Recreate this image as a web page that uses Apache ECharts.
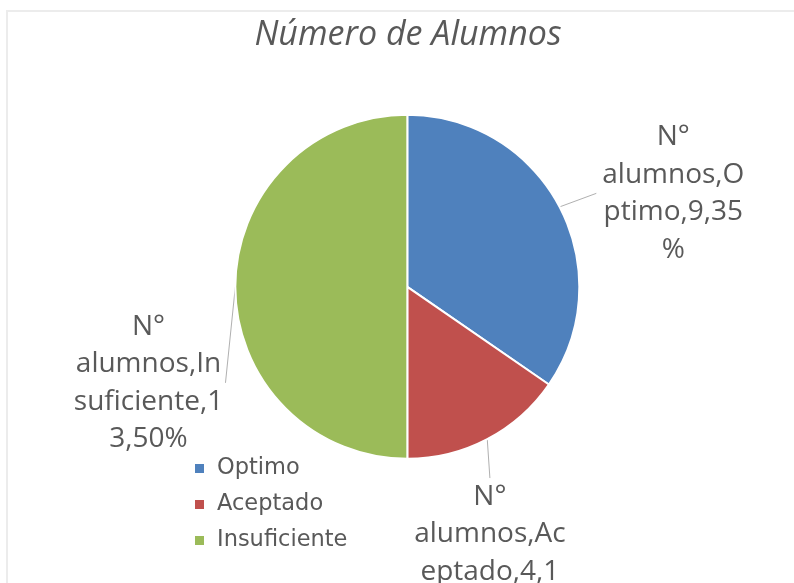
<!DOCTYPE html>
<html>
<head>
<meta charset="utf-8">
<script src="https://cdn.jsdelivr.net/npm/echarts@6/dist/echarts.min.js"></script>
<style>
  html, body { margin: 0; padding: 0; background: #fff; }
  #chart { width: 794px; height: 583px; }
</style>
</head>
<body>
<div id="chart"></div>
<script>
  const categories = ['Optimo', 'Aceptado', 'Insuficiente']
  const values = [9, 4, 13]
  const colors = ['#4f81bd', '#c0504d', '#9bbb59']
  const seriesName = 'N° alumnos'

  // where the data labels sit, Excel-like (x centre, y top), as fractions of the chart
  const labelSpots = [[0.848, 0.203], [0.617, 0.82], [0.187, 0.528]]

  const chart = echarts.init(document.getElementById('chart'))
  const textColor = '#595959'
  const font = '"Open Sans", Lato, sans-serif'

  // Excel joins the leader line to the middle of the label side that faces the slice
  function leaderEnd(anchor, r) {
    if (anchor[0] < r.x) return [r.x, r.y + r.height / 2]
    if (anchor[0] > r.x + r.width) return [r.x + r.width, r.y + r.height / 2]
    if (anchor[1] < r.y) return [r.x + r.width / 2, r.y]
    return [r.x + r.width / 2, r.y + r.height]
  }

  chart.setOption({
    backgroundColor: '#fff',
    animation: false,
    title: {
      text: 'Número de Alumnos',
      left: 408,
      textAlign: 'center',
      top: 18,
      padding: 0,
      textStyle: {
        fontFamily: font,
        fontStyle: 'italic',
        fontWeight: 'normal',
        fontSize: 34,
        color: textColor
      }
    },
    legend: {
      orient: 'vertical',
      left: 193,
      top: 457,
      padding: 0,
      itemWidth: 11,
      itemHeight: 11,
      itemGap: 13,
      icon: 'rect',
      data: categories,
      textStyle: {
        fontFamily: '"DejaVu Sans", sans-serif',
        fontSize: 22.5,
        color: textColor,
        padding: [0, 0, 0, 7]
      }
    },
    graphic: [{
      type: 'rect',
      shape: {x: 7, y: 11, width: 900, height: 700},
      style: {fill: 'none', stroke: '#ececec', lineWidth: 2},
      silent: true,
      z: -1
    }],
    series: [{
      name: seriesName,
      type: 'pie',
      center: ['51.3%', '49.2%'],
      radius: 172,
      startAngle: 90,
      clockwise: true,
      percentPrecision: 0,
      data: categories.map((c, i) => ({
        name: c,
        value: values[i],
        itemStyle: {color: colors[i]}
      })),
      itemStyle: {
        borderColor: '#fff',
        borderWidth: 2
      },
      emphasis: {disabled: true},
      label: {
        show: true,
        position: 'outside',
        formatter: p => 'N°\nalumnos,' + p.name + ',' + p.value + ',' + p.percent + '%',
        fontFamily: font,
        fontSize: 28,
        lineHeight: 37.5,
        color: textColor,
        align: 'center',
        width: 154,
        overflow: 'breakAll'
      },
      labelLine: {
        show: true,
        lineStyle: {color: '#b0b0b0', width: 1}
      },
      labelLayout: p => {
        const s = labelSpots[p.dataIndex]
        const w = p.labelRect.width
        const h = p.labelRect.height
        const x = s[0] * chart.getWidth()
        const y = s[1] * chart.getHeight()
        const anchor = p.labelLinePoints[0]
        const end = leaderEnd(anchor, {x: x - w / 2, y: y, width: w, height: h})
        return {
          x: x,
          y: y,
          align: 'center',
          verticalAlign: 'top',
          labelLinePoints: [anchor, anchor, end]
        }
      }
    }]
  })
</script>
</body>
</html>
